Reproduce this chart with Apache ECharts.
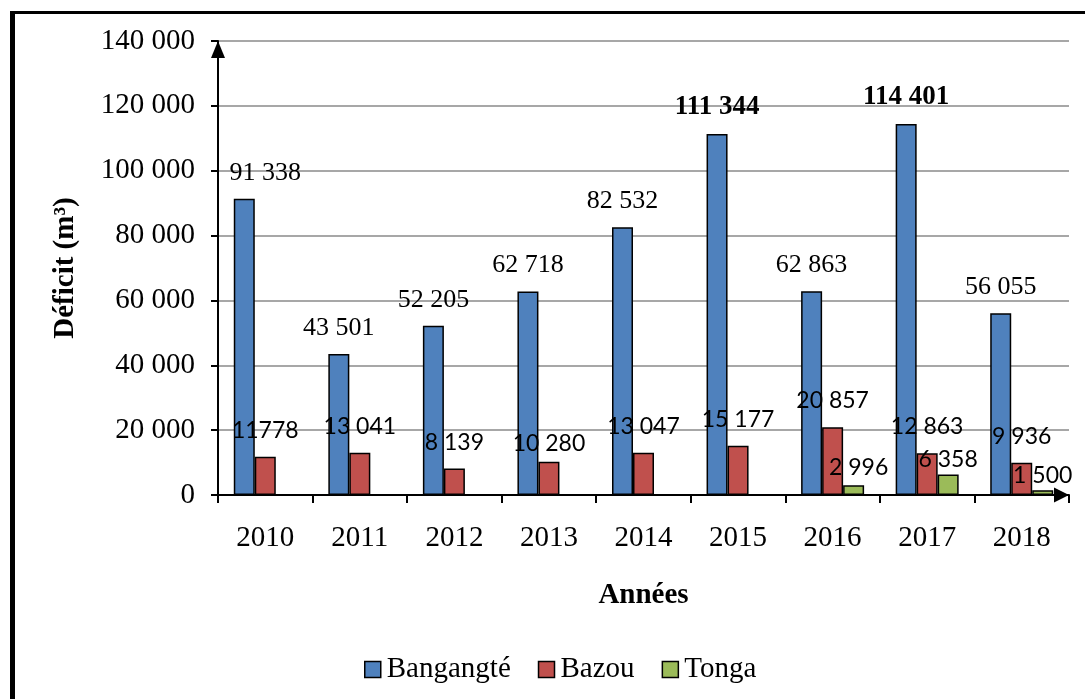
<!DOCTYPE html>
<html>
<head>
<meta charset="utf-8">
<script src="https://cdn.jsdelivr.net/npm/echarts@6/dist/echarts.min.js"></script>
<style>
  html, body { margin: 0; padding: 0; background: #ffffff; }
  #chart { width: 1085px; height: 699px; }
</style>
</head>
<body>
<div id="chart"></div>
<script>
// Water deficit per town, 2010–2018 (m³)
const years = ['2010', '2011', '2012', '2013', '2014', '2015', '2016', '2017', '2018'];
const bangangte = [91338, 43501, 52205, 62718, 82532, 111344, 62863, 114401, 56055];
const bazou = [11778, 13041, 8139, 10280, 13047, 15177, 20857, 12863, 9936];
const tonga = [null, null, null, null, null, null, 2996, 6358, 1500];
const yTicks = [0, 20000, 40000, 60000, 80000, 100000, 120000, 140000];

// years whose Bangangté label is set in bold
const boldYears = ['2015', '2017'];
// values whose label is written without a digit-group space
const ungrouped = [11778];

const SERIF = '"Liberation Serif", "Times New Roman", serif';
const SANS = 'Lato, "Open Sans", sans-serif';

function grouped(v) {
  if (ungrouped.indexOf(v) >= 0) return String(v);
  return String(v).replace(/\B(?=(\d{3})+(?!\d))/g, ' ');
}

// nudges for a few data labels that sit apart from their bar
const labelNudge = {
  'Bangangté-2010': [21, 0],
  'Bazou-2013': [0, 8],
  'Tonga-2016': [5, -3]
};

function items(name, values) {
  return values.map(function (v, i) {
    const item = { value: v };
    const nudge = labelNudge[name + '-' + years[i]];
    const label = {};
    if (nudge) label.offset = nudge;
    if (name === 'Bangangté' && boldYears.indexOf(years[i]) >= 0) {
      label.fontWeight = 'bold';
      label.fontSize = 27;
    }
    if (Object.keys(label).length) item.label = label;
    return item;
  });
}

const barBorder = { borderColor: '#000000', borderWidth: 1.5 };

const chart = echarts.init(document.getElementById('chart'), null, { renderer: 'canvas' });

chart.setOption({
  animation: false,
  backgroundColor: '#ffffff',
  grid: { left: 218, right: 16, top: 41, bottom: 204, containLabel: false },
  legend: {
    left: 359,
    top: 650,
    itemWidth: 16,
    itemHeight: 16,
    itemGap: 27,
    icon: 'rect',
    textStyle: { fontFamily: SERIF, fontSize: 29, color: '#000000', padding: [0, 0, 0, 1] },
    itemStyle: { borderColor: '#000000', borderWidth: 1.5 },
    data: ['Bangangté', 'Bazou', 'Tonga']
  },
  xAxis: {
    type: 'category',
    data: years,
    name: 'Années',
    nameLocation: 'middle',
    nameGap: 86,
    nameTextStyle: { fontFamily: SERIF, fontSize: 29, fontWeight: 'bold', color: '#000000' },
    axisLine: {
      show: true,
      symbol: ['none', 'triangle'],
      symbolSize: [15, 15],
      symbolOffset: [0, -7.5],
      lineStyle: { color: '#000000', width: 2 }
    },
    axisTick: { show: true, length: 8, lineStyle: { color: '#000000', width: 2 } },
    axisLabel: { fontFamily: SERIF, fontSize: 29, color: '#000000', margin: 29 },
    splitLine: { show: false }
  },
  yAxis: {
    type: 'value',
    min: yTicks[0],
    max: yTicks[yTicks.length - 1],
    interval: yTicks[1] - yTicks[0],
    name: 'Déficit (m³)',
    nameLocation: 'middle',
    nameGap: 138,
    nameTextStyle: { fontFamily: SERIF, fontSize: 29, fontWeight: 'bold', color: '#000000' },
    axisLine: {
      show: true,
      symbol: ['none', 'triangle'],
      symbolSize: [14, 17],
      symbolOffset: [0, -8.5],
      lineStyle: { color: '#000000', width: 2 }
    },
    axisTick: { show: true, length: 7, lineStyle: { color: '#000000', width: 2 } },
    axisLabel: { fontFamily: SERIF, fontSize: 29, color: '#000000', margin: 23, formatter: grouped },
    splitLine: { show: true, lineStyle: { color: '#8a8a8a', width: 1.5 } }
  },
  series: [
    {
      name: 'Bangangté',
      type: 'bar',
      barWidth: 21,
      barGap: '0%',
      data: items('Bangangté', bangangte),
      itemStyle: Object.assign({ color: '#4F81BD' }, barBorder),
      label: {
        show: true, position: 'top', distance: 13,
        fontFamily: SERIF, fontSize: 26, color: '#000000',
        formatter: function (p) { return grouped(p.value); }
      }
    },
    {
      name: 'Bazou',
      type: 'bar',
      barWidth: 21,
      barGap: '0%',
      data: items('Bazou', bazou),
      itemStyle: Object.assign({ color: '#C0504D' }, barBorder),
      label: {
        show: true, position: 'top', distance: 15,
        fontFamily: SANS, fontSize: 23, color: '#000000',
        formatter: function (p) { return grouped(p.value); }
      }
    },
    {
      name: 'Tonga',
      type: 'bar',
      barWidth: 21,
      barGap: '0%',
      data: items('Tonga', tonga),
      itemStyle: Object.assign({ color: '#9BBB59' }, barBorder),
      label: {
        show: true, position: 'top', distance: 3,
        fontFamily: SANS, fontSize: 23, color: '#000000',
        formatter: function (p) { return p.value == null ? '' : grouped(p.value); }
      }
    }
  ],
  graphic: [
    // outer frame (left and top edges)
    { type: 'line', silent: true, z: 100,
      shape: { x1: 12.5, y1: 11, x2: 12.5, y2: 699 },
      style: { stroke: '#000000', lineWidth: 5 } },
    { type: 'line', silent: true, z: 100,
      shape: { x1: 10, y1: 12.5, x2: 1085, y2: 12.5 },
      style: { stroke: '#000000', lineWidth: 3 } }
  ]
});
</script>
</body>
</html>
